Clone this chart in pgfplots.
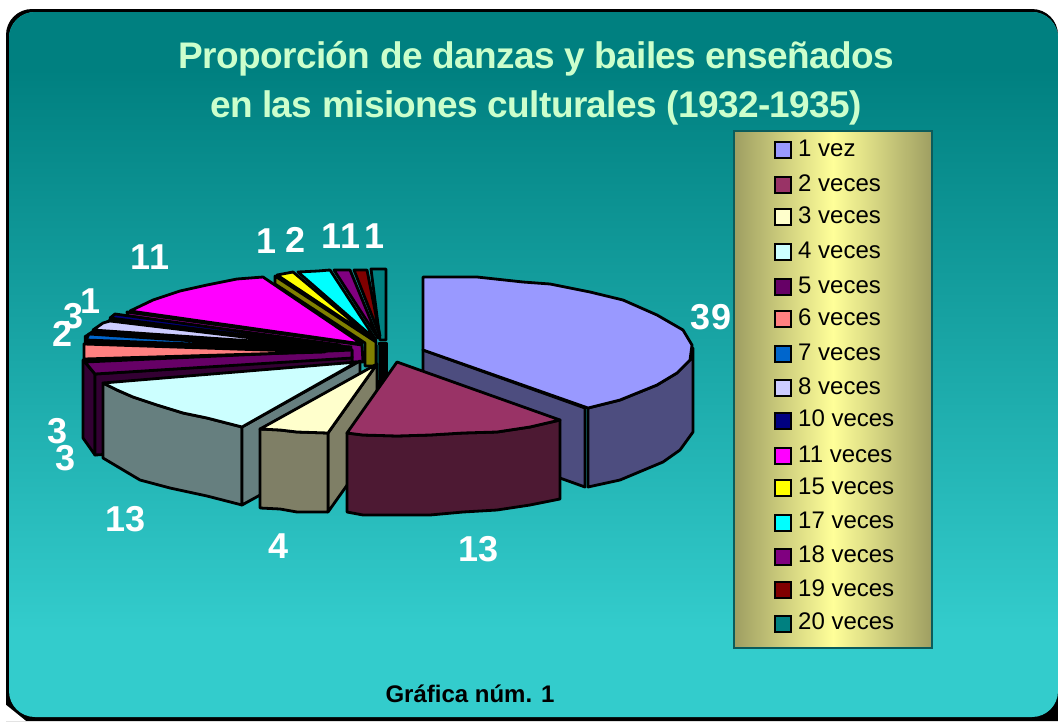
\documentclass[border=0pt]{standalone}
\usepackage{pgfplots}
\pgfplotsset{compat=1.18}
\usepackage{fontspec}
\setmainfont{Liberation Sans}
\definecolor{tealtop}{HTML}{008080}
\definecolor{tealbot}{HTML}{33CCCC}
\definecolor{s1}{HTML}{9999FF}\definecolor{s1d}{HTML}{4D4D7F}
\definecolor{s2}{HTML}{993366}\definecolor{s2d}{HTML}{4D1933}
\definecolor{s3}{HTML}{FFFFCC}\definecolor{s3d}{HTML}{7F7F66}
\definecolor{s4}{HTML}{CCFFFF}\definecolor{s4d}{HTML}{667F7F}
\definecolor{s5}{HTML}{660066}\definecolor{s5d}{HTML}{330033}
\definecolor{s6}{HTML}{FF8080}
\definecolor{s7}{HTML}{0066CC}
\definecolor{s8}{HTML}{CCCCFF}
\definecolor{s10}{HTML}{000080}
\definecolor{s11}{HTML}{FF00FF}\definecolor{s11d}{HTML}{800080}
\definecolor{s15}{HTML}{FFFF00}\definecolor{s15d}{HTML}{808000}
\definecolor{s17}{HTML}{00FFFF}
\definecolor{s18}{HTML}{800080}
\definecolor{s19}{HTML}{800000}
\definecolor{s20}{HTML}{008080}
\definecolor{legedge}{HTML}{9E9E62}
\definecolor{legmid}{HTML}{FFFF99}
\definecolor{legline}{HTML}{0B5C5C}
\definecolor{titlec}{HTML}{CCFFCC}
\newcommand{\bigb}{\fontsize{36}{36}\selectfont\bfseries}
\newcommand{\legf}{\fontsize{24}{24}\selectfont}
\newcommand{\titf}{\fontsize{37}{37}\selectfont\bfseries\addfontfeatures{LetterSpace=-1.7}}
\pgfplotsset{sl/.style={draw=black,line width=2.8pt,line join=round,fill=#1,mark=none}}
\begin{document}
\begin{tikzpicture}
\begin{axis}[
  scale only axis,width=1058pt,height=721pt,
  xmin=0,xmax=1058,ymin=0,ymax=721,y dir=reverse,
  hide axis,clip=false]
% background
\fill[white] (axis cs:0,0) rectangle (axis cs:1058,721);
\fill[black,rounded corners=26pt] (axis cs:6,400) -- (axis cs:6,9) -- (axis cs:1058,9) [sharp corners] -- (axis cs:1058,721) -- (axis cs:6,721)[rounded corners=26pt] -- (axis cs:6,721) -- cycle;
\fill[white] (axis cs:0,700) -- (axis cs:26,721) -- (axis cs:0,721) -- cycle;
\fill[tealbot,rounded corners=26pt] (axis cs:9,300) -- (axis cs:9,12) -- (axis cs:1058,12) -- (axis cs:1058,717) -- (axis cs:9,717) -- cycle;
\fill[tealtop,rounded corners=26pt] (axis cs:9,70) -- (axis cs:9,12) -- (axis cs:1058,12) [sharp corners] -- (axis cs:1058,70) -- cycle;
\shade[top color=tealtop,bottom color=tealbot] (axis cs:9,69) rectangle (axis cs:1058,630);
% slice 1
\addplot[sl=s1d] coordinates {(423,350) (585,408) (585,487) (423,429)} --cycle;
\addplot[sl=s1d] coordinates {(588,408) (620,400) (657,385) (677,373) (690,360) (693,348) (693,432) (680,450) (663,462) (620,480) (588,487)} --cycle;
\addplot[sl=s1] coordinates {(423,277) (477,277) (523,282) (550,284) (590,292) (623,300) (657,315) (683,330) (692,345) (690,360) (677,373) (657,385) (620,400) (588,408) (423,350)} --cycle;
% back side of 20
\addplot[sl=black] coordinates {(379,343) (387,343) (387,386) (379,386)} --cycle;
\addplot[draw=none,fill=s20!50!black] coordinates {(377,345) (379,345) (379,380) (377,380)} --cycle;
% 20 19 18 17
\addplot[sl=s20] coordinates {(371,269) (386,269) (386,340) (380,340)} --cycle;
\addplot[sl=s19] coordinates {(354,270) (367,270) (380,336)} --cycle;
\addplot[sl=s18] coordinates {(334,270) (350,270) (378,338)} --cycle;
\addplot[sl=s17] coordinates {(298,272) (318,271) (330,270) (376,340)} --cycle;
% 15
\addplot[sl=s15d] coordinates {(275,276) (275,284) (365,343) (365,366) (376,366) (376,342)} --cycle;
\addplot[sl=s15] coordinates {(277,275) (293,272) (372,338)} --cycle;
% 11
\addplot[sl=s11d] coordinates {(127,312) (362,345) (363,362) (352,362) (352,350) (128,316)} --cycle;
\addplot[sl=s11] coordinates {(130,311) (153,300) (180,291) (207,285) (237,279) (263,277) (362,344)} --cycle;
% black wedge under the narrow slices
\addplot[draw=black,fill=black] coordinates {(84,336) (111,318) (352,346) (352,366) (95,376) (84,362)} --cycle;
% 10 8 7 6
\addplot[sl=s10] coordinates {(110,318) (115,314) (340,345) (300,342)} --cycle;
\addplot[sl=s8] coordinates {(93,330) (103,323) (110,321) (310,345)} --cycle;
\addplot[sl=s7] coordinates {(86,340) (89,334) (300,348)} --cycle;
% 5 side
\addplot[sl=s5d] coordinates {(83,360) (95,374) (95,455) (83,438)} --cycle;
\addplot[sl=s5d] coordinates {(95,374) (352,357) (352,440) (95,455)} --cycle;
\addplot[sl=s5] coordinates {(85,362) (95,374) (352,358) (352,350)} --cycle;
\addplot[sl=s6] coordinates {(84,344) (84,359) (325,352)} --cycle;
% 4
\addplot[sl=s4d] coordinates {(103,383) (117,390) (133,397) (157,405) (183,413) (207,418) (242,427) (242,505) (207,496) (170,488) (140,480) (103,458)} --cycle;
\addplot[sl=s4d] coordinates {(242,427) (360,361) (360,440) (242,505)} --cycle;
\addplot[sl=s4] coordinates {(103,383) (117,390) (133,397) (157,405) (183,413) (207,418) (242,427) (357,362)} --cycle;
% 3
\addplot[sl=s3d] coordinates {(328,433) (377,364) (377,443) (328,512)} --cycle;
\addplot[sl=s3d] coordinates {(260,429) (280,430) (297,432) (328,433) (328,512) (297,512) (280,509) (260,508)} --cycle;
\addplot[sl=s3] coordinates {(260,429) (280,430) (297,432) (328,433) (377,364)} --cycle;
% 2
\addplot[sl=s2d] coordinates {(347,433) (363,435) (397,436) (430,435) (463,433) (497,432) (530,427) (560,420) (560,499) (530,505) (497,510) (463,512) (430,515) (363,515) (347,512)} --cycle;
\addplot[sl=s2] coordinates {(397,362) (560,420) (530,427) (497,432) (463,433) (430,435) (397,436) (363,435) (347,433)} --cycle;
% legend
\shade[left color=legedge,right color=legedge,middle color=legmid,draw=legline,line width=1.6pt] (axis cs:734,131) rectangle (axis cs:932,648);
\addplot[only marks,mark=square*,mark size=8pt,mark options={draw=black,line width=1.8pt,fill=s1}] coordinates {(783,150)};
\addplot[only marks,mark=square*,mark size=8pt,mark options={draw=black,line width=1.8pt,fill=s2}] coordinates {(783,185)};
\addplot[only marks,mark=square*,mark size=8pt,mark options={draw=black,line width=1.8pt,fill=s3}] coordinates {(783,217)};
\addplot[only marks,mark=square*,mark size=8pt,mark options={draw=black,line width=1.8pt,fill=s4}] coordinates {(783,252)};
\addplot[only marks,mark=square*,mark size=8pt,mark options={draw=black,line width=1.8pt,fill=s5}] coordinates {(783,287)};
\addplot[only marks,mark=square*,mark size=8pt,mark options={draw=black,line width=1.8pt,fill=s6}] coordinates {(783,319)};
\addplot[only marks,mark=square*,mark size=8pt,mark options={draw=black,line width=1.8pt,fill=s7}] coordinates {(783,354)};
\addplot[only marks,mark=square*,mark size=8pt,mark options={draw=black,line width=1.8pt,fill=s8}] coordinates {(783,388)};
\addplot[only marks,mark=square*,mark size=8pt,mark options={draw=black,line width=1.8pt,fill=s10}] coordinates {(783,421)};
\addplot[only marks,mark=square*,mark size=8pt,mark options={draw=black,line width=1.8pt,fill=s11}] coordinates {(783,456)};
\addplot[only marks,mark=square*,mark size=8pt,mark options={draw=black,line width=1.8pt,fill=s15}] coordinates {(783,488)};
\addplot[only marks,mark=square*,mark size=8pt,mark options={draw=black,line width=1.8pt,fill=s17}] coordinates {(783,523)};
\addplot[only marks,mark=square*,mark size=8pt,mark options={draw=black,line width=1.8pt,fill=s18}] coordinates {(783,557)};
\addplot[only marks,mark=square*,mark size=8pt,mark options={draw=black,line width=1.8pt,fill=s19}] coordinates {(783,590)};
\addplot[only marks,mark=square*,mark size=8pt,mark options={draw=black,line width=1.8pt,fill=s20}] coordinates {(783,624)};
\foreach \y/\t in {156/1 vez,191/2 veces,223/3 veces,258/4 veces,293/5 veces,325/6 veces,360/7 veces,394/8 veces,426/10 veces,462/11 veces,494/15 veces,528/17 veces,562/18 veces,596/19 veces,629/20 veces}{
  \edef\temp{\noexpand\node[anchor=base west,inner sep=0pt,text=black] at (axis cs:798,\y) {\noexpand\legf \t};}
  \temp
}
% title
\node[anchor=base,inner sep=0pt,text=titlec] at (axis cs:536.5,68) {\titf Proporción de danzas y bailes enseñados};
\node[anchor=base,inner sep=0pt,text=titlec] at (axis cs:536,117) {\titf en las misiones culturales (1932-1935)};
\node[anchor=base,inner sep=0pt,text=black] at (axis cs:470,702) {\fontsize{24}{24}\selectfont\bfseries Gráfica núm. 1};
% data labels
\node[anchor=base,inner sep=0pt,text=white] at (axis cs:711,329) {\bigb 39};
\node[anchor=base,inner sep=0pt,text=white] at (axis cs:479,561) {\bigb 13};
\node[anchor=base,inner sep=0pt,text=white] at (axis cs:279,558) {\bigb 4};
\node[anchor=base,inner sep=0pt,text=white] at (axis cs:126,531) {\bigb 13};
\node[anchor=base,inner sep=0pt,text=white] at (axis cs:58,443) {\bigb 3};
\node[anchor=base,inner sep=0pt,text=white] at (axis cs:66,470) {\bigb 3};
\node[anchor=base,inner sep=0pt,text=white] at (axis cs:63,346) {\bigb 2};
\node[anchor=base,inner sep=0pt,text=white] at (axis cs:74,328) {\bigb 3};
\node[anchor=base,inner sep=0pt,text=white] at (axis cs:91,313) {\bigb 1};
\node[anchor=base,inner sep=0pt,text=white] at (axis cs:150,269) {\bigb 11};
\node[anchor=base,inner sep=0pt,text=white] at (axis cs:267,253) {\bigb 1};
\node[anchor=base,inner sep=0pt,text=white] at (axis cs:296,252) {\bigb 2};
\node[anchor=base,inner sep=0pt,text=white] at (axis cs:341,248) {\bigb 11};
\node[anchor=base,inner sep=0pt,text=white] at (axis cs:375,248) {\bigb 1};
\end{axis}
\end{tikzpicture}
\end{document}
